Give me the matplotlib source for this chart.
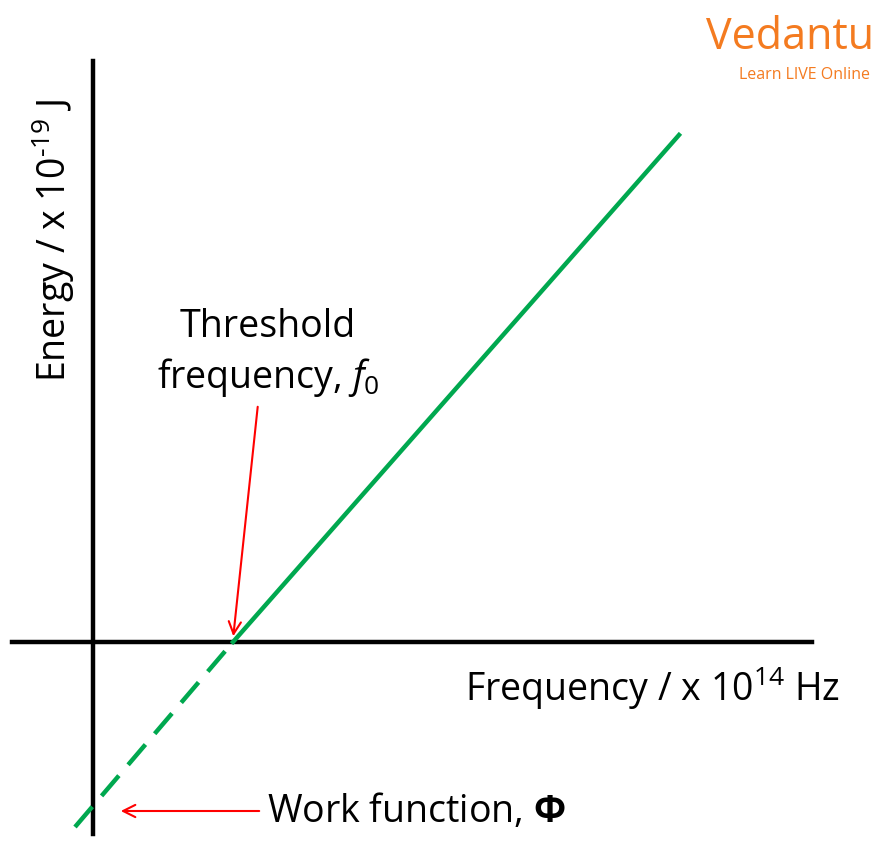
import matplotlib
matplotlib.use("Agg")
import matplotlib.pyplot as plt

plt.rcParams['font.family'] = ['Open Sans', 'DejaVu Sans']
plt.rcParams['mathtext.fontset'] = 'custom'
plt.rcParams['mathtext.rm'] = 'Open Sans'
plt.rcParams['mathtext.it'] = 'Open Sans:italic'
plt.rcParams['mathtext.bf'] = 'Open Sans:bold'

# schematic data (units: arbitrary)
freq_dashed = [-0.18, 1.40]
energy_dashed = [-1.85, 0.0]
freq_solid = [1.40, 5.86]
energy_solid = [0.0, 5.07]
threshold_f0 = 1.40
work_function = -1.64

fig = plt.figure(figsize=(8.83, 8.53), dpi=100)
ax = fig.add_axes([0, 0, 1, 1])
ax.set_xlim(-0.93, 7.90)
ax.set_ylim(-2.10, 6.43)
ax.axis('off')

green = '#00a84f'
ax.plot([0, 0], [-1.92, 5.81], color='black', lw=3.2)
ax.plot([-0.81, 7.19], [0, 0], color='black', lw=3.2)
ax.plot(freq_solid, energy_solid, color=green, lw=3.2)
ax.plot(freq_dashed, energy_dashed, color=green, lw=3.2, dashes=(6, 3.2))

fs = 27
ax.text(-0.40, 4.03, 'Energy / x 10$^{\\mathrm{‐19}}$ J', rotation=90, fontsize=fs,
        ha='center', va='center', fontweight='medium')
ax.text(7.47, -0.45, 'Frequency / x 10$^{14}$ Hz', fontsize=fs, ha='right', va='center',
        fontweight='medium')
ax.text(1.75, 3.16, 'Threshold', fontsize=fs, ha='center', va='center', fontweight='medium')
ax.text(1.75, 2.65, 'frequency, $\\mathit{f_0}$', fontsize=fs, ha='center', va='center',
        fontweight='medium')
ax.annotate('', xy=(threshold_f0, 0.03), xytext=(1.65, 2.38),
            arrowprops=dict(arrowstyle='->', color='red', lw=1.5, mutation_scale=22))
ax.text(1.74, -1.69, 'Work function, $\\mathbf{\\Phi}$', fontsize=fs, ha='left', va='center',
        fontweight='medium')
ax.annotate('', xy=(0.25, -1.69), xytext=(1.69, -1.69),
            arrowprops=dict(arrowstyle='->', color='red', lw=1.5, mutation_scale=22))

ax.text(7.81, 6.05, 'Vedantu', fontsize=31, color='#f47b20', ha='right', va='center')
ax.text(7.77, 5.68, 'Learn LIVE Online', fontsize=11.5, color='#f47b20', ha='right', va='center')

fig.savefig('out.png', dpi=100)
